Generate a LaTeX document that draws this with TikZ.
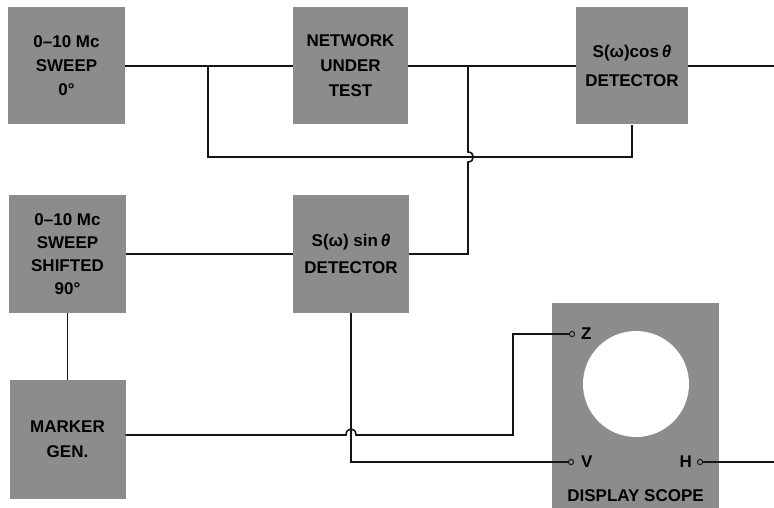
\documentclass[tikz,border=0pt]{standalone}
\usepackage{fontspec}
\setmainfont{Liberation Sans}
\usetikzlibrary{calc}
\definecolor{panelgrey}{HTML}{8C8C8C}
\definecolor{wireblack}{HTML}{151515}
\tikzset{
  unit/.style={
    rectangle,
    fill=panelgrey,
    inner sep=2pt,
    align=center,
    font=\fontsize{17}{24}\selectfont\bfseries,
    text=black
  },
  wire/.style={draw=wireblack, line width=1.6pt},
  jack/.style={draw=wireblack, line width=1pt},
  jacklabel/.style={font=\fontsize{17}{20}\selectfont\bfseries, text=black, inner sep=1pt}
}

\begin{document}
\begin{tikzpicture}[x=1pt,y=-1pt]

\useasboundingbox (0,0) rectangle (774,508);

% Top row
\node[unit, minimum width=117pt, minimum height=117pt] (sweepa) at (66.5,66) {0--10 Mc\\SWEEP\\0°};
\node[unit, minimum width=115pt, minimum height=117pt, font=\fontsize{17}{25}\selectfont\bfseries] (network) at (350.5,66) {NETWORK\\UNDER\\TEST};
\node[unit, minimum width=112pt, minimum height=117pt, font=\fontsize{17}{29}\selectfont\bfseries] (detcos) at (632,66) {S(ω)cos\,\textit{θ}\\DETECTOR};

% Middle row
\node[unit, minimum width=117pt, minimum height=118pt, font=\fontsize{17}{23}\selectfont\bfseries] (sweepb) at (67.5,254) {0--10 Mc\\SWEEP\\SHIFTED\\90°};
\node[unit, minimum width=116pt, minimum height=118pt, font=\fontsize{17}{27}\selectfont\bfseries] (detsin) at (351,254) {S(ω) sin\,\textit{θ}\\DETECTOR};

% Bottom row
\node[unit, minimum width=116pt, minimum height=119pt, font=\fontsize{17}{25}\selectfont\bfseries] (marker) at (67.5,439.5) {MARKER\\GEN.};
\node[unit, minimum width=167pt, minimum height=206pt] (scope) at (635.5,406) {};
\node[circle, fill=white, minimum size=106pt, inner sep=0pt] (screen) at (636,384) {};
\node[jacklabel, anchor=south] (scopename) at (635.5,503) {DISPLAY SCOPE};

% Scope inputs
\coordinate (zin) at (572,334);
\coordinate (vin) at (571,462);
\coordinate (hin) at (700,462);
\node[jacklabel, anchor=west] (zlabel) at (580,334) {Z};
\node[jacklabel, anchor=west] (vlabel) at (580,462) {V};
\node[jacklabel, anchor=east] (hlabel) at (693,462) {H};

% Junctions and free ends
\coordinate (tapa) at (208,66);
\coordinate (tapb) at (468,66);
\coordinate (outcos) at (774,66);
\coordinate (outh) at (774,462);

% Sweep to network and cos detector
\draw[wire] (sweepa.east) -- (network.west);
\draw[wire] (network.east) -- (detcos.west);
\draw[wire] (detcos.east) -- (outcos);
\draw[wire] (tapa) -- (208,157) -| (detcos.south);

% Shifted sweep to sin detector, feedback up to the top line (hop over)
\draw[wire] (sweepb.east) -- (detsin.west);
\draw[wire] (detsin.east) -| (468,162)
  .. controls (475,162) and (475,152) .. (468,152) -- (tapb);
\draw[wire] (sweepb.south) -- (marker.north);

% Marker to Z (hop over), sin detector to V
\draw[wire] ([yshift=4.5pt]marker.east) -- (346,435)
  .. controls (346,427) and (356,427) .. (356,435) -- (513,435) |- (zin);
\draw[wire] (detsin.south) |- (vin);
\draw[wire] (hin) -- (outh);

\draw[jack, fill=panelgrey] (zin) circle (2.6pt);
\draw[jack, fill=panelgrey] (vin) circle (2.6pt);
\draw[jack, fill=panelgrey] (hin) circle (2.6pt);

\end{tikzpicture}
\end{document}
